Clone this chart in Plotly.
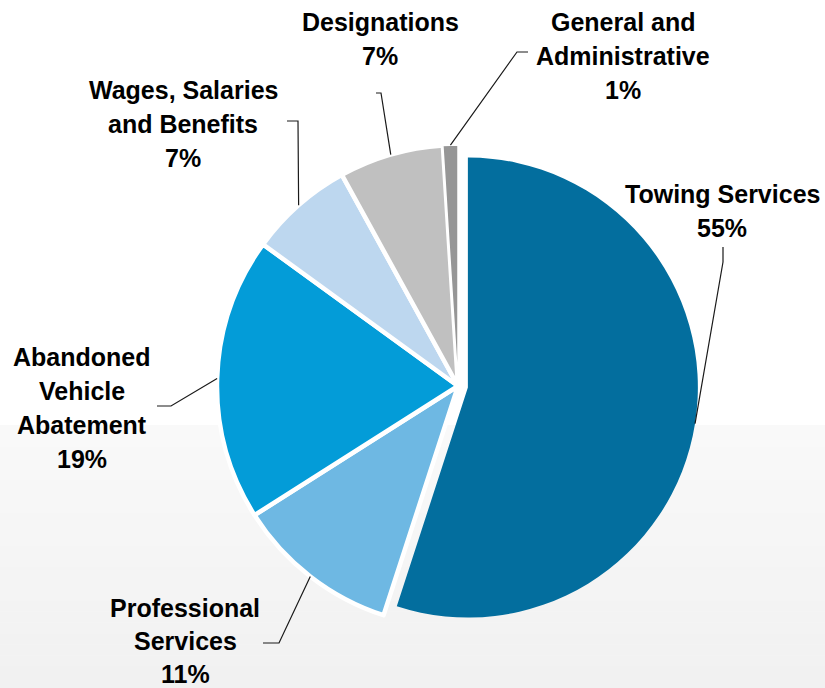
import math
import plotly.graph_objects as go

# Spending breakdown (percent of total)
categories = [
    "Towing Services",
    "Professional Services",
    "Abandoned Vehicle Abatement",
    "Wages, Salaries and Benefits",
    "Designations",
    "General and Administrative",
]
values = [55, 11, 19, 7, 7, 1]
label_lines = [
    ["Towing Services"],
    ["Professional", "Services"],
    ["Abandoned", "Vehicle", "Abatement"],
    ["Wages, Salaries", "and Benefits"],
    ["Designations"],
    ["General and", "Administrative"],
]
colors = ["#036e9e", "#6eb8e3", "#039cd8", "#bdd7ef", "#c0c0c0", "#969696"]

W, H = 825, 688
FONT = "Liberation Sans, Arial, sans-serif"
FS = 25
LINE_GAP = 34

# pie geometry in pixels
CX, CY, R = 458.0, 386.0, 241.0          # undetached slices
PULL_PX, R_PULLED = 10.0, 230.0          # detached first slice


def pxx(x):
    return x / W


def pxy(y):
    return 1 - y / H


total = sum(values)
mid_angles = []
acc = 0.0
for v in values:
    mid_angles.append(360.0 * (acc + v / 2) / total)
    acc += v

# centre of the detached slice, moved out along its mid angle
a0 = math.radians(mid_angles[0])
TCX = CX + PULL_PX * math.sin(a0)
TCY = CY - PULL_PX * math.cos(a0)


def domain(cx, cy, r):
    return dict(x=[pxx(cx - r), pxx(cx + r)], y=[pxy(cy + r), pxy(cy - r)])


transparent = "rgba(0,0,0,0)"
rest_colors = [transparent] + colors[1:]
rest_widths = [0, 4.5, 4.5, 4.5, 4.5, 1.5]
first_colors = [colors[0]] + [transparent] * (len(values) - 1)

fig = go.Figure()
fig.add_trace(go.Pie(
    labels=categories, values=values, sort=False, direction="clockwise",
    rotation=0, textinfo="none", hoverinfo="label+percent",
    marker=dict(colors=rest_colors, line=dict(color="white", width=rest_widths)),
    domain=domain(CX, CY, R), showlegend=False,
))
fig.add_trace(go.Pie(
    labels=categories, values=values, sort=False, direction="clockwise",
    rotation=0, textinfo="none", hoverinfo="label+percent",
    marker=dict(colors=first_colors, line=dict(color="white", width=0)),
    domain=domain(TCX, TCY, R_PULLED), showlegend=False,
))

# label placement: (centre x, first line y) and leader elbow points
label_pos = [
    (722, 194),
    (185, 608),
    (82, 357),
    (183, 90),
    (380, 22),
    (623, 22),
]
elbows = [
    [(723, 247), (723, 262)],
    [(263, 643), (279, 643)],
    [(157, 406), (171, 406)],
    [(287, 121), (298, 121)],
    [(376, 93), (381, 93)],
    [(528, 52), (517, 52)],
]

annotations = []
shapes = []

# light grey band behind the lower part of the chart
band_top, band_bottom, steps = 425, H, 24
for i in range(steps):
    y0 = band_top + (band_bottom - band_top) * i / steps
    y1 = band_top + (band_bottom - band_top) * (i + 1) / steps + 0.5
    g = round(249 - 8 * i / (steps - 1))
    shapes.append(dict(
        type="rect", xref="paper", yref="paper", layer="below",
        x0=0, x1=1, y0=pxy(y1), y1=pxy(y0),
        fillcolor=f"rgb({g},{g},{g})", line=dict(width=0),
    ))

for i, (lines, v) in enumerate(zip(label_lines, values)):
    x, y = label_pos[i]
    texts = lines + [f"{v}%"]
    gap = LINE_GAP if i != 1 else 33
    for j, t in enumerate(texts):
        annotations.append(dict(
            xref="paper", yref="paper", x=pxx(x), y=pxy(y + j * gap),
            text=f"<b>{t}</b>", showarrow=False, xanchor="center", yanchor="middle",
            font=dict(family=FONT, size=FS, color="#000000"),
        ))
    # leader line ends on the slice's outer edge at its mid angle
    ang = math.radians(mid_angles[i])
    if i == 0:
        ax = TCX + R_PULLED * math.sin(ang)
        ay = TCY - R_PULLED * math.cos(ang)
    else:
        ax = CX + R * math.sin(ang)
        ay = CY - R * math.cos(ang)
    pts = elbows[i] + [(ax, ay)]
    path = "M " + " L ".join(f"{pxx(px_)},{pxy(py_)}" for px_, py_ in pts)
    shapes.append(dict(
        type="path", xref="paper", yref="paper", path=path,
        line=dict(color="#1a1a1a", width=1.2), layer="above",
    ))

fig.update_layout(
    width=W, height=H,
    margin=dict(l=0, r=0, t=0, b=0),
    paper_bgcolor="white", plot_bgcolor="white",
    annotations=annotations, shapes=shapes,
)

fig.write_html("out.html")
